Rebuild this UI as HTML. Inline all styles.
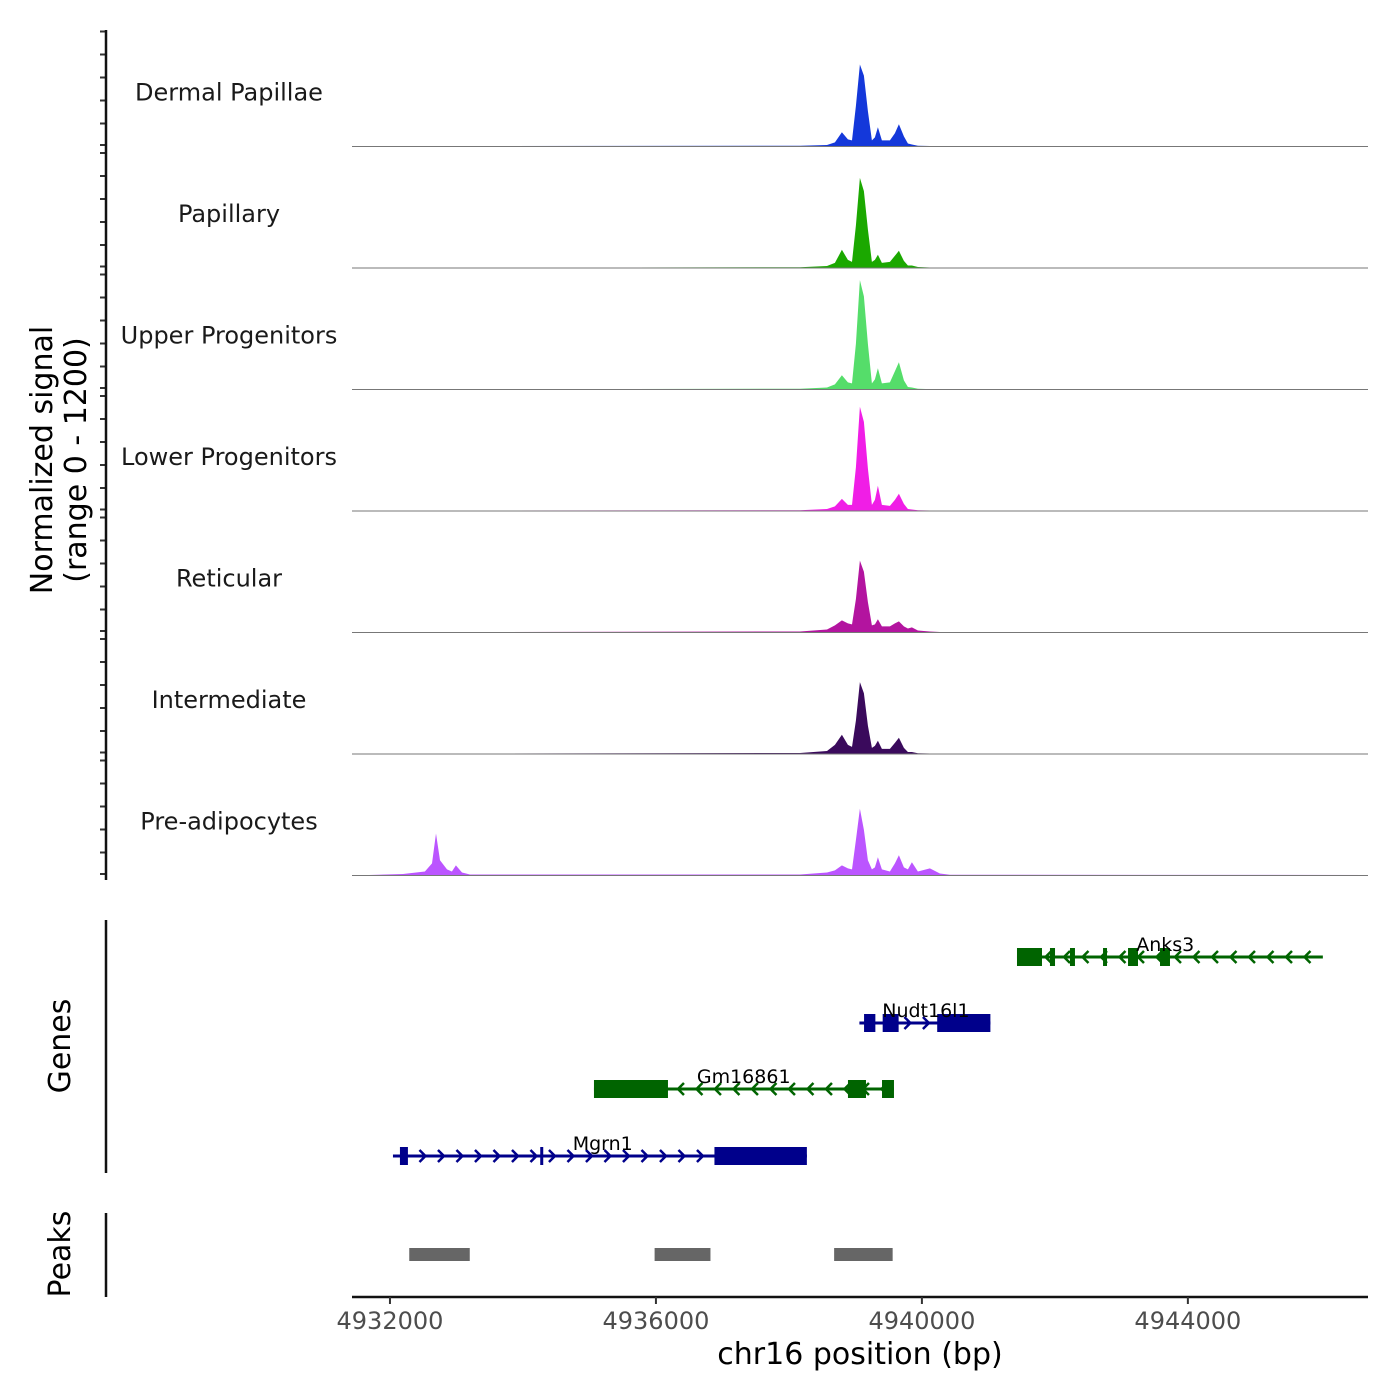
<!DOCTYPE html>
<html><head><meta charset="utf-8">
<style>
body{margin:0;background:#fff;}
svg{display:block;font-family:"DejaVu Sans","Liberation Sans",sans-serif;}
</style></head>
<body>
<svg id="chart" width="1400" height="1400" viewBox="0 0 1400 1400"></svg>
<script>
// ---- data ----
const positions = [4931429,4932196,4932526,4932632,4932692,4932752,4932857,4932932,4932992,4933083,4933203,4938166,4938572,4938692,4938797,4938887,4938948,4939008,4939068,4939128,4939188,4939248,4939293,4939338,4939398,4939519,4939594,4939654,4939729,4939789,4939850,4939940,4940120,4940271,4940421,4946709];
const trackNames = ["Dermal Papillae","Papillary","Upper Progenitors","Lower Progenitors","Reticular","Intermediate","Pre-adipocytes"];
const trackColors = ["#1438DA","#1BA800","#55DD6A","#F01EE6","#B3149F","#3A0A5C","#BB55FF"];
const dermalValues = [5,5,5,5,5,5,5,5,5,5,5,8,15,40,140,70,60,400,810,700,350,60,90,190,60,60,130,220,100,30,20,8,5,5,5,5];
const papillaryValues = [3,3,3,3,3,3,3,3,3,3,3,8,20,50,180,80,60,420,890,760,380,60,80,130,50,60,120,170,70,25,25,10,5,3,3,3];
const upperValues = [3,3,3,3,3,3,3,3,3,3,3,8,20,50,140,70,60,450,1080,920,450,60,100,210,60,70,180,270,90,25,20,8,4,3,3,3];
const lowerValues = [5,5,5,5,5,5,5,5,5,5,5,8,20,45,120,60,60,430,1030,880,420,60,110,250,60,50,110,170,70,20,15,8,5,5,5,5];
const reticularValues = [5,5,5,5,5,5,5,5,5,5,5,10,30,70,120,90,80,330,710,600,300,70,80,130,60,60,90,110,60,40,50,20,10,5,5,5];
const intermediateValues = [5,5,5,5,5,5,5,5,5,5,5,10,30,90,190,90,70,330,710,600,280,60,80,130,50,50,110,160,60,20,20,8,5,5,5,5];
const preadipValues = [0,15,40,120,415,150,60,40,100,30,10,10,30,50,100,70,60,350,660,450,150,60,80,180,60,40,120,200,80,60,130,40,70,20,8,5];
const seriesValues = [dermalValues,papillaryValues,upperValues,lowerValues,reticularValues,intermediateValues,preadipValues];
const xTicks = [4932000,4936000,4940000,4944000];
const xTickLabels = ["4932000","4936000","4940000","4944000"];
const yMax = 1200;
const geneNames = ["Anks3","Nudt16l1","Gm16861","Mgrn1"];
const geneStrands = [-1,1,-1,1];
const geneStarts = [4941430,4939060,4935068,4932045];
const geneEnds = [4946030,4941030,4939580,4938270];
const geneExons = [
 [[4941430,4941806],[4941926,4942002],[4942227,4942302],[4942724,4942784],[4943100,4943250],[4943581,4943731]],
 [[4939130,4939300],[4939410,4939650],[4940230,4941030]],
 [[4935068,4936181],[4938888,4939159],[4939400,4939580]],
 [[4932150,4932270],[4934260,4934290],[4936880,4938270]]
];
const geneLabelPos = [4943660,4940060,4937320,4935200];
const geneColors = ["#006400","#00008B","#006400","#00008B"];
const peakStarts = [4932290,4935980,4938680];
const peakEnds = [4933200,4936820,4939560];

// ---- scales ----
const X0=352,X1=1368, D0=4931429, D1=4946709;
const xs = v => X0 + (v-D0)/(D1-D0)*(X1-X0);
const trackTop = 25, trackH = 121.5;
const NS="http://www.w3.org/2000/svg";
const svg=document.getElementById('chart');
function mk(tag,attrs,parent){const e=document.createElementNS(NS,tag);for(const k in attrs)e.setAttribute(k,attrs[k]);(parent||svg).appendChild(e);return e;}

seriesValues.forEach((vals,i)=>{
  const base = trackTop + trackH*(i+1);
  const ys = v => base - v/yMax*trackH;
  const g=mk('g',{});
  
  
  let d='M'+xs(positions[0])+','+base;
  positions.forEach((p,j)=>{d+=' L'+xs(p).toFixed(1)+','+ys(vals[j]).toFixed(1);});
  d+=' L'+xs(positions[positions.length-1])+','+base+' Z';
  const a=mk('path',{d:d,fill:trackColors[i],stroke:'none'},g);
  
  
  const bl=mk('line',{x1:X0,x2:X1,y1:base,y2:base,stroke:'#777','stroke-width':1},g);
  
  
  const t=mk('text',{x:229,y:base-46,'text-anchor':'middle','font-size':24,fill:'#1a1a1a'},g);
  t.textContent=trackNames[i];
  
  
  for(let k=0;k<=5;k++){
    const ty=base - k*23 + (k===0?-1.5:0);
    const tk=mk('line',{x1:100,x2:106,y1:ty,y2:ty,stroke:'#333','stroke-width':2},g);
    
    
  }
});
const ya=mk('line',{x1:106,x2:106,y1:30,y2:880,stroke:'#111','stroke-width':2.5});


const yt=mk('text',{transform:'translate(52,460) rotate(-90)','text-anchor':'middle','font-size':30,fill:'#000'});
yt.textContent='Normalized signal';


const yt2=mk('text',{transform:'translate(86,460) rotate(-90)','text-anchor':'middle','font-size':30,fill:'#000'});
yt2.textContent='(range 0 - 1200)';



const ga=mk('line',{x1:106,x2:106,y1:920,y2:1173,stroke:'#111','stroke-width':2.5});


const gt=mk('text',{transform:'translate(70,1046) rotate(-90)','text-anchor':'middle','font-size':30,fill:'#000'});
gt.textContent='Genes';


const rowY=[957,1023,1089,1156];
geneNames.forEach((nm,i)=>{
  const y=rowY[i], c=geneColors[i];
  const g=mk('g',{});
  
  
  const x0=xs(geneStarts[i]), x1=xs(geneEnds[i]);
  mk('line',{x1:x0,x2:x1,y1:y,y2:y,stroke:c,'stroke-width':3},g);
  for(let x=x0+12;x<x1-4;x+=18.5){
    const s=geneStrands[i];
    mk('polyline',{points:`${x-4*s},${y-6} ${x+2*s},${y} ${x-4*s},${y+6}`,fill:'none',stroke:c,'stroke-width':2.5},g);
  }
  geneExons[i].forEach(e=>{
    const ex=mk('rect',{x:xs(e[0]),y:y-9,width:Math.max(3,xs(e[1])-xs(e[0])),height:18,fill:c},g);
    
    
  });
  const t=mk('text',{x:xs(geneLabelPos[i]),y:y-6,'text-anchor':'middle','font-size':19,fill:'#000'},g);
  t.textContent=nm;
  
  
});

const pa=mk('line',{x1:106,x2:106,y1:1213,y2:1297,stroke:'#111','stroke-width':2.5});


const pt=mk('text',{transform:'translate(70,1254) rotate(-90)','text-anchor':'middle','font-size':30,fill:'#000'});
pt.textContent='Peaks';


peakStarts.forEach((s,i)=>{
  const r=mk('rect',{x:xs(s),y:1248,width:xs(peakEnds[i])-xs(s),height:13,fill:'#666'});
  
  
});

const xa=mk('line',{x1:X0,x2:X1,y1:1297,y2:1297,stroke:'#111','stroke-width':2.5});


xTicks.forEach((v,i)=>{
  const tk=mk('line',{x1:xs(v),x2:xs(v),y1:1297,y2:1304,stroke:'#333','stroke-width':2});
  
  
  const t=mk('text',{x:xs(v),y:1329,'text-anchor':'middle','font-size':24,fill:'#4d4d4d'});
  t.textContent=xTickLabels[i];
  
  
});
const xt=mk('text',{x:860,y:1364,'text-anchor':'middle','font-size':30,fill:'#000'});
xt.textContent='chr16 position (bp)';


</script>
</body></html>
